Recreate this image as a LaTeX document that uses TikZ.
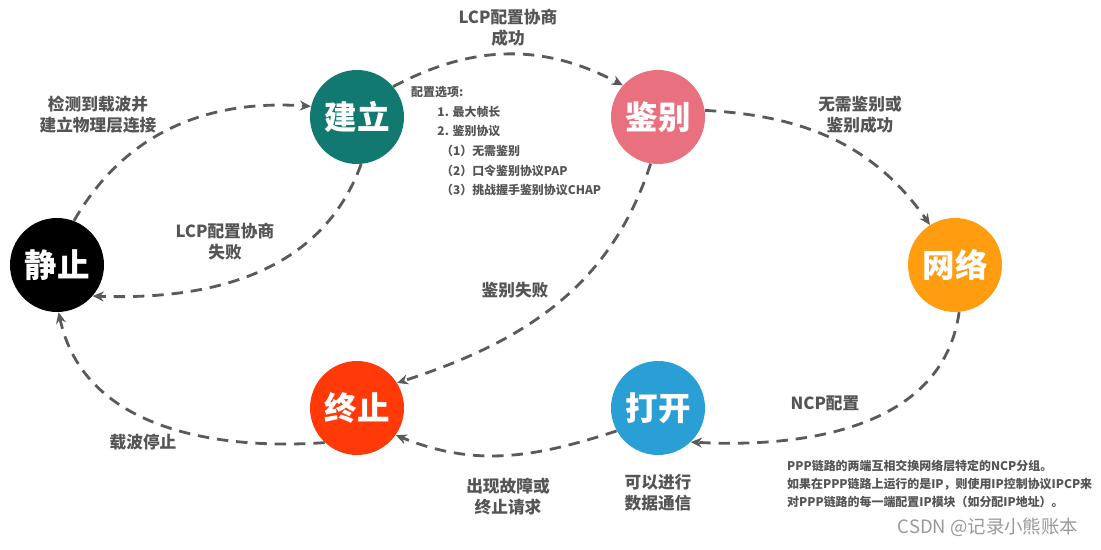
\documentclass[tikz,border=0pt]{standalone}
\usepackage{fontspec}
\setmainfont{Noto Sans CJK SC}
\usepackage{xcolor}
\usetikzlibrary{arrows.meta,positioning}
\definecolor{jianli}{HTML}{11796F}
\definecolor{jianbie}{HTML}{E8707F}
\definecolor{wangluo}{HTML}{FF9C10}
\definecolor{dakai}{HTML}{2A9FD6}
\definecolor{zhongzhi}{HTML}{FF3A08}
\definecolor{linegray}{HTML}{5A5A5A}
\definecolor{textgray}{HTML}{555555}
\tikzset{
  state/.style={circle, minimum size=1.88cm, inner sep=0pt, text=white, font=\fontsize{18.5}{20}\selectfont\bfseries},
  trans/.style={-{Stealth[length=2.2mm, width=2mm]}, draw=linegray, line width=1.6pt, dash pattern=on 6.5pt off 4.5pt},
  lbl/.style={text=textgray, align=center, font=\fontsize{9.5}{12}\selectfont\bfseries},
  note/.style={text=textgray, align=left, font=\fontsize{6.8}{11.2}\selectfont\bfseries}
}
\begin{document}
\begin{tikzpicture}[x=0.02cm, y=-0.02cm]
  \useasboundingbox (0,0) rectangle (1101,550);

  \node[state, fill=black] (jz) at (57,265) {静止};
  \node[state, fill=jianli] (jl) at (357,117) {建立};
  \node[state, fill=jianbie] (jb) at (658,117) {鉴别};
  \node[state, fill=wangluo] (wl) at (955,265) {网络};
  \node[state, fill=dakai] (dk) at (658,408) {打开};
  \node[state, fill=zhongzhi] (zz) at (357,408) {终止};

  \draw[trans] (jz.69) to[out=60, in=176] (jl.167);
  \draw[trans] (jl.-85) to[out=-110, in=-2] (jz.-41);
  \draw[trans] (jl.40) to[out=28, in=152] (jb.138);
  \draw[trans] (jb.8) to[out=-3, in=125] (wl.122);
  \draw[trans] (jb.-99) to[out=-108, in=18] (zz.32);
  \draw[trans] (wl.-85) to[out=-98, in=-3] (dk.-46);
  \draw[trans] (dk.-151) to[out=-162, in=-22] (zz.-35);
  \draw[trans] (zz.-133) to[out=-176, in=-78] (jz.-88);

  \node[lbl] (l1) at (98,115) {检测到载波并\\建立物理层连接};
  \node[lbl] (l2) at (508,28) {LCP配置协商\\成功};
  \node[lbl] (l3) at (860,115) {无需鉴别或\\鉴别成功};
  \node[lbl] (l4) at (225,242) {LCP配置协商\\失败};
  \node[lbl] (l5) at (515,290) {鉴别失败};
  \node[lbl] (l6) at (825,403) {NCP配置};
  \node[lbl] (l7) at (143,442) {载波停止};
  \node[lbl] (l8) at (508,497) {出现故障或\\终止请求};
  \node[lbl] (l9) at (658,493) {可以进行\\数据通信};

  \node[note, anchor=north west] (opts) at (405,80) {配置选项:\\
    \hspace*{2.2em}1. 最大帧长\\
    \hspace*{2.2em}2. 鉴别协议\\
    \hspace*{2.5em}（1）无需鉴别\\
    \hspace*{2.5em}（2）口令鉴别协议PAP\\
    \hspace*{2.5em}（3）挑战握手鉴别协议CHAP};

  \node[note, anchor=north west, font=\fontsize{6.8}{10.3}\selectfont\bfseries] (ncp) at (781,454)
    {PPP链路的两端互相交换网络层特定的NCP分组。\\
     如果在PPP链路上运行的是IP，则使用IP控制协议IPCP来\\
     对PPP链路的每一端配置IP模块（如分配IP地址）。};

  \node[text=black!40, font=\fontsize{10.5}{12}\selectfont] (wm) at (988,527) {CSDN @记录小熊账本};
\end{tikzpicture}
\end{document}
